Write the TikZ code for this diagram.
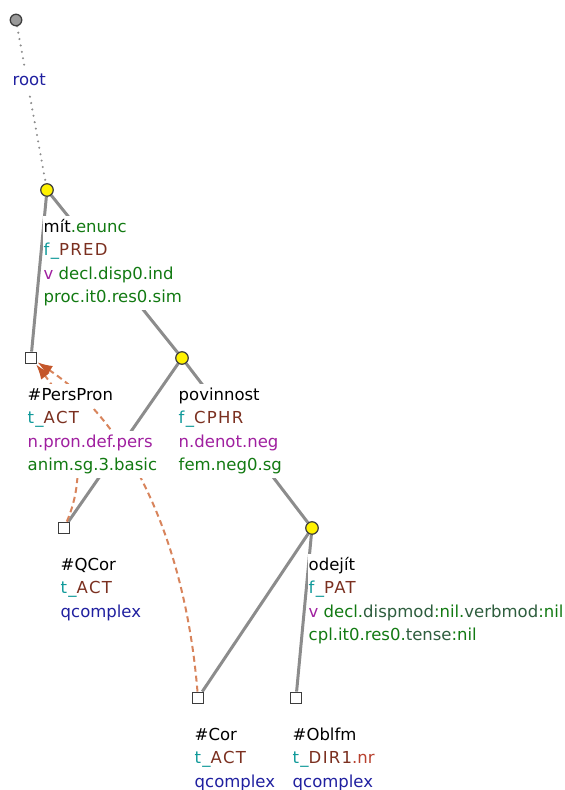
\documentclass[tikz,border=0pt]{standalone}
\usepackage{fontspec}
\setmainfont{DejaVu Sans}
\usepackage{xcolor}
\usepackage{tikz}
\usetikzlibrary{arrows.meta,backgrounds}
\definecolor{Outline}{HTML}{3C3C3C}
\definecolor{EdgeGray}{HTML}{8C8C8C}
\definecolor{RootGray}{HTML}{9A9A9A}
\definecolor{Coref}{HTML}{D8845C}
\definecolor{CorefTip}{HTML}{C4562A}
\definecolor{Grm}{HTML}{127A12}
\definecolor{GrmDark}{HTML}{2E5E3E}
\definecolor{Teal}{HTML}{109A9A}
\definecolor{Func}{HTML}{7B3020}
\definecolor{Red}{HTML}{B8402E}
\definecolor{Purple}{HTML}{A020A0}
\definecolor{Navy}{HTML}{2020A0}
\newcommand{\functor}[2]{{\addfontfeature{LetterSpace=8}\textcolor{Teal}{#1\_}\textcolor{Func}{#2}}}

\begin{document}
\begin{tikzpicture}[x=1pt,y=-1pt,
tnode/.style={circle,draw=Outline,fill=yellow,line width=1.2pt,minimum size=12.5pt,inner sep=0pt},
anode/.style={rectangle,draw=Outline,fill=white,line width=1.3pt,minimum size=11.5pt,inner sep=0pt},
rnode/.style={circle,draw=Outline,fill=RootGray,line width=1.3pt,minimum size=11.5pt,inner sep=0pt},
lbl/.style={anchor=base west,fill=white,inner xsep=0.5pt,inner ysep=1pt,text height=15.5pt,text depth=6.5pt,font=\fontsize{16.5}{19}\selectfont},
edge/.style={draw=EdgeGray,line width=3pt},
rootedge/.style={draw=EdgeGray,line width=2.3pt,line cap=round,dash pattern=on 0pt off 6.5pt},
coref/.style={draw=Coref,line width=2pt,dash pattern=on 6pt off 4pt,-{Latex[length=15pt,width=11pt,color=CorefTip]}}]
\useasboundingbox (0,0) rectangle (565,790);
% tree nodes
\node[rnode] (root) at (16,20) {};
\node[tnode] (mit) at (47,190) {};
\node[anode] (pers) at (31,358) {};
\node[tnode] (povin) at (182,358) {};
\node[anode] (qcor) at (64,528) {};
\node[tnode] (odejit) at (312,528) {};
\node[anode] (cor) at (198,698) {};
\node[anode] (oblfm) at (296,698) {};
% labels
\node[lbl,text=Navy] (root2) at (12,85.5) {root};
\node[lbl] (mit1) at (43,232) {mít\textcolor{Grm}{.enunc}};
\node[lbl] (mit2) at (43,255.5) {\functor{f}{PRED}};
\node[lbl] (mit3) at (43,279) {\textcolor{Purple}{v} \textcolor{Grm}{decl.disp0.ind}};
\node[lbl,text=Grm] (mit4) at (43,302.5) {proc.it0.res0.sim};
\node[lbl] (pers1) at (27,400) {\#PersPron};
\node[lbl] (pers2) at (27,423.5) {\functor{t}{ACT}};
\node[lbl,text=Purple] (pers3) at (27,447) {n.pron.def.pers};
\node[lbl,text=Grm] (pers4) at (27,470.5) {anim.sg.3.basic};
\node[lbl] (povin1) at (178,400) {povinnost};
\node[lbl] (povin2) at (178,423.5) {\functor{f}{CPHR}};
\node[lbl,text=Purple] (povin3) at (178,447) {n.denot.neg};
\node[lbl,text=Grm] (povin4) at (178,470.5) {fem.neg0.sg};
\node[lbl] (qcor1) at (60,570) {\#QCor};
\node[lbl] (qcor2) at (60,593.5) {\functor{t}{ACT}};
\node[lbl,text=Navy] (qcor3) at (60,617) {qcomplex};
\node[lbl] (odejit1) at (308,570) {odejít};
\node[lbl] (odejit2) at (308,593.5) {\functor{f}{PAT}};
\node[lbl] (odejit3) at (308,617) {\textcolor{Purple}{v} \textcolor{Grm}{decl.}\textcolor{GrmDark}{dispmod}\textcolor{Grm}{:nil.}\textcolor{GrmDark}{verbmod}\textcolor{Grm}{:nil}};
\node[lbl,text=Grm] (odejit4) at (308,640.5) {cpl.it0.res0.\textcolor{GrmDark}{tense}:nil};
\node[lbl] (cor1) at (194,740) {\#Cor};
\node[lbl] (cor2) at (194,763.5) {\functor{t}{ACT}};
\node[lbl,text=Navy] (cor3) at (194,787) {qcomplex};
\node[lbl] (oblfm1) at (292,740) {\#Oblfm};
\node[lbl] (oblfm2) at (292,763.5) {\functor{t}{DIR1}\textcolor{Red}{.nr}};
\node[lbl,text=Navy] (oblfm3) at (292,787) {qcomplex};
% edges and coreference
\begin{pgfonlayer}{background}
\draw[rootedge] (root) -- (mit);
\draw[edge] (mit) -- (pers); \draw[edge] (mit) -- (povin);
\draw[edge] (povin) -- (qcor); \draw[edge] (povin) -- (odejit);
\draw[edge] (odejit) -- (cor); \draw[edge] (odejit) -- (oblfm);
\draw[coref] (qcor) .. controls +(24,-55) and +(46,58) .. (pers);
\draw[coref] (cor) .. controls +(-13,-158) and +(98,65) .. (pers);
\end{pgfonlayer}
\end{tikzpicture}
\end{document}
